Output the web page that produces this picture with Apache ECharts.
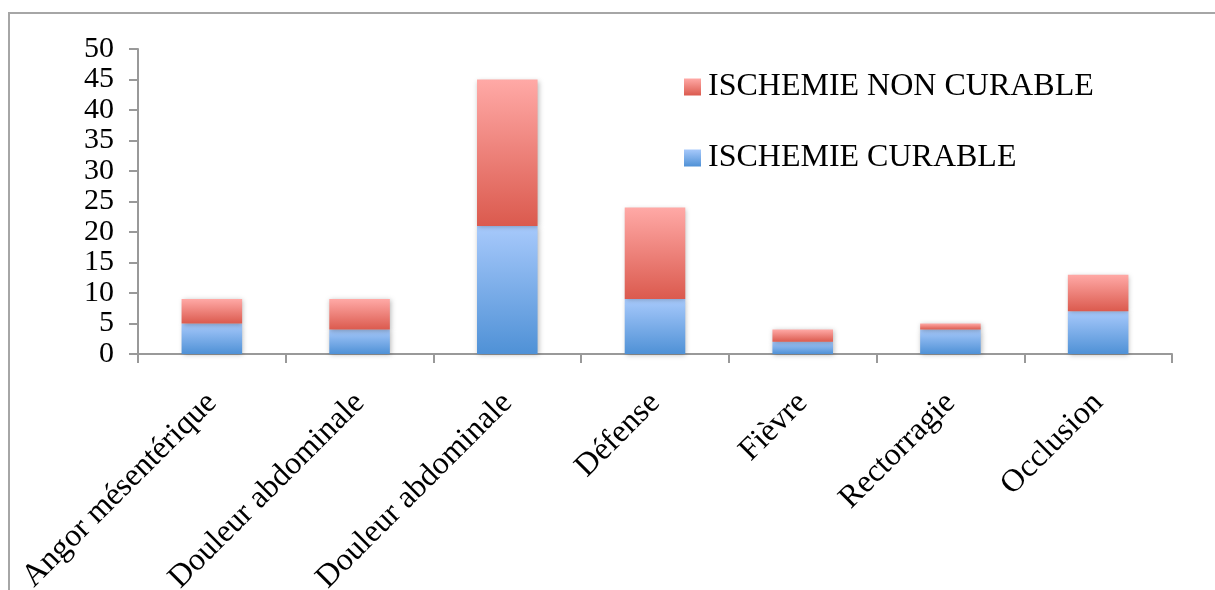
<!DOCTYPE html>
<html>
<head>
<meta charset="utf-8">
<script src="https://cdn.jsdelivr.net/npm/echarts@6/dist/echarts.min.js"></script>
<style>
html,body{margin:0;padding:0;background:#fff;}
#chart{width:1215px;height:590px;}
</style>
</head>
<body>
<div id="chart"></div>
<script>
const categories = ["Angor mésentérique","Douleur abdominale","Douleur abdominale","Défense","Fièvre","Rectorragie","Occlusion"];
const curable = [5, 4, 21, 9, 2, 4, 7];
const nonCurable = [4, 5, 24, 15, 2, 1, 6];
const seriesNames = ["ISCHEMIE CURABLE", "ISCHEMIE NON CURABLE"];

const font = "'Liberation Serif', 'Times New Roman', serif";
const grad = (top, bottom) => new echarts.graphic.LinearGradient(0, 0, 0, 1, [
  {offset: 0, color: top}, {offset: 1, color: bottom}
]);
const blueFill = grad('#A7C9FB', '#4F91D6');
const redFill = grad('#FFA9A6', '#DB5A4E');
const shadow = {shadowBlur: 5, shadowColor: 'rgba(0,0,0,0.28)', shadowOffsetX: 1, shadowOffsetY: 1};

const chart = echarts.init(document.getElementById('chart'));
chart.setOption({
  animation: false,
  backgroundColor: '#fff',
  grid: {left: 138, right: 43, top: 49, bottom: 236, containLabel: false, outerBoundsMode: 'none'},
  legend: {
    orient: 'vertical',
    left: 684,
    top: 71,
    padding: 0,
    itemWidth: 17,
    itemHeight: 17,
    itemGap: 39,
    icon: 'rect',
    data: [seriesNames[1], seriesNames[0]],
    textStyle: {fontFamily: font, fontSize: 32, color: '#000', padding: [0, 0, 0, 2]}
  },
  xAxis: {
    type: 'category',
    data: categories,
    axisLine: {lineStyle: {color: '#999', width: 2}},
    axisTick: {show: true, length: 9, lineStyle: {color: '#999', width: 2}},
    axisLabel: {rotate: 45, fontFamily: font, fontSize: 32, color: '#000', margin: 44, interval: 0, hideOverlap: false}
  },
  yAxis: {
    type: 'value',
    min: 0, max: 50, interval: 5,
    axisLine: {show: true, lineStyle: {color: '#999', width: 2}},
    axisTick: {show: true, length: 9, lineStyle: {color: '#999', width: 2}},
    splitLine: {show: false},
    axisLabel: {fontFamily: font, fontSize: 30, color: '#000', margin: 24, showMinLabel: true, showMaxLabel: true, hideOverlap: false}
  },
  graphic: [{
    type: 'polyline',
    silent: true,
    shape: {points: [[9, 600], [9, 13], [1220, 13]]},
    style: {stroke: '#a6a6a6', lineWidth: 2, fill: null}
  }],
  series: [
    {name: seriesNames[0], type: 'bar', stack: 'total', data: curable, barCategoryGap: '59%',
     itemStyle: Object.assign({color: blueFill}, shadow)},
    {name: seriesNames[1], type: 'bar', stack: 'total', data: nonCurable, barCategoryGap: '59%',
     itemStyle: Object.assign({color: redFill}, shadow)}
  ]
});
</script>
</body>
</html>
